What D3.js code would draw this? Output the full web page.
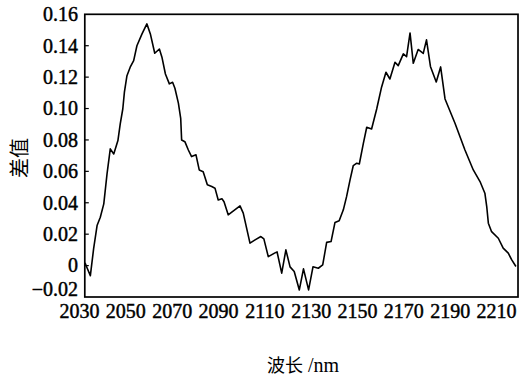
<!DOCTYPE html>
<html>
<head>
<meta charset="utf-8">
<script src="https://cdn.jsdelivr.net/npm/d3@7/dist/d3.min.js"></script>
<style>
  html, body { margin: 0; padding: 0; background: #fff; }
  svg { display: block; }
</style>
</head>
<body>
<svg id="chart" width="527" height="376"></svg>
<script>
// Wavelength (nm) and difference values of the spectrum curve
const wavelength = [
  2032.6, 2033.5, 2034.9, 2036.3, 2037.8, 2039.2, 2040.7, 2042.1, 2043.5, 2045.0,
  2046.8, 2047.8, 2048.9, 2049.6, 2050.7, 2052.1, 2053.6, 2055.0, 2057.2, 2059.3,
  2060.8, 2062.7, 2064.7, 2065.8, 2067.3, 2069.0, 2070.4, 2071.4, 2072.9, 2073.9,
  2074.3, 2075.7, 2077.2, 2078.6, 2080.5, 2081.9, 2083.6, 2085.4, 2087.3, 2088.7,
  2090.1, 2091.7, 2092.6, 2094.4, 2099.5, 2100.9, 2103.8, 2106.0, 2108.5, 2109.8,
  2111.7, 2114.6, 2115.5, 2117.5, 2119.3, 2121.1, 2122.9, 2125.1, 2126.9, 2129.1,
  2131.0, 2133.3, 2135.2, 2136.9, 2138.8, 2140.5, 2142.3, 2144.1, 2145.5, 2147.0,
  2148.4, 2149.9, 2151.0, 2152.7, 2154.2, 2156.3, 2158.5, 2160.6, 2162.5, 2164.2,
  2166.4, 2167.8, 2170.0, 2171.4, 2172.9, 2174.3, 2176.4, 2178.6, 2180.0, 2181.7,
  2184.2, 2186.1, 2188.0, 2192.3, 2196.6, 2200.2, 2203.1, 2205.2, 2206.0, 2206.7,
  2208.1, 2211.0, 2213.1, 2215.3, 2216.8, 2218.6
];
const difference = [
  0.0017, -0.0015, -0.0064, 0.0106, 0.0255, 0.0308, 0.0393, 0.0584, 0.0743, 0.0711,
  0.0796, 0.0902, 0.0997, 0.1104, 0.1209, 0.1263, 0.1305, 0.1400, 0.1475, 0.1539,
  0.1475, 0.1352, 0.1379, 0.1327, 0.1220, 0.1157, 0.1167, 0.1129, 0.1034, 0.0938,
  0.0800, 0.0789, 0.0736, 0.0694, 0.0705, 0.0609, 0.0598, 0.0514, 0.0503, 0.0493,
  0.0418, 0.0425, 0.0407, 0.0323, 0.0380, 0.0334, 0.0143, 0.0164, 0.0185, 0.0170,
  0.0057, 0.0081, 0.0087, -0.0048, 0.0100, -0.0008, -0.0038, -0.0155, -0.0021, -0.0155,
  -0.0008, -0.0017, 0.0004, 0.0148, 0.0153, 0.0275, 0.0286, 0.0355, 0.0439, 0.0546,
  0.0637, 0.0652, 0.0647, 0.0775, 0.0881, 0.0870, 0.0997, 0.1136, 0.1231, 0.1188,
  0.1295, 0.1273, 0.1348, 0.1330, 0.1481, 0.1288, 0.1376, 0.1351, 0.1437, 0.1268,
  0.1169, 0.1265, 0.1061, 0.0906, 0.0736, 0.0609, 0.0535, 0.0461, 0.0376, 0.0270,
  0.0216, 0.0174, 0.0111, 0.0079, 0.0036, -0.0006
];

// Axis ticks and labels
const xTicks = [2030, 2050, 2070, 2090, 2110, 2130, 2150, 2170, 2190, 2210];
const yTicks = [-0.02, 0, 0.02, 0.04, 0.06, 0.08, 0.10, 0.12, 0.14, 0.16];
const xLimits = [2032.5, 2219.5];
const yLimits = [-0.02, 0.16];
const xTitle = "波长";
const xUnit = " /nm";
const yTitle = "差值";

const svg = d3.select("#chart");
const serif = "'Liberation Serif', 'Times New Roman', serif";
const cjk = "'Noto Sans CJK SC', sans-serif";

const x = d3.scaleLinear().domain([2030, 2210]).range([79, 496]);
const y = d3.scaleLinear().domain(yLimits).range([297, 14.3]);

const frameL = x(xLimits[0]), frameR = x(xLimits[1]);
const frameT = y(yLimits[1]), frameB = y(yLimits[0]);

// Plot frame
svg.append("rect")
  .attr("x", frameL).attr("y", frameT)
  .attr("width", frameR - frameL).attr("height", frameB - frameT)
  .attr("fill", "none").attr("stroke", "#000").attr("stroke-width", 1.7);

// Inward ticks on the left edge
svg.append("g").selectAll("line").data(yTicks.slice(1, -1)).join("line")
  .attr("x1", frameL).attr("x2", frameL + 4)
  .attr("y1", d => y(d)).attr("y2", d => y(d))
  .attr("stroke", "#000").attr("stroke-width", 1.2);

// Shared look of the tick labels: printed serif with a slightly heavy stroke
function styleLabels(sel) {
  sel.attr("font-family", serif).attr("font-size", 20)
    .attr("fill", "#000").attr("stroke", "#000").attr("stroke-width", 0.45);
}

// Bottom axis labels
const fmtX = d3.format("d");
const xAxis = d3.axisBottom(x).tickValues(xTicks).tickSize(0).tickPadding(7).tickFormat(fmtX);
const gx = svg.append("g").attr("transform", `translate(0,${frameB})`).call(xAxis);
gx.select(".domain").remove();
gx.selectAll("text").call(styleLabels);

// Left axis labels
const fmtY = d => d === 0 ? "0" : (d < 0 ? "\u22120.02" : d3.format(".2f")(d));
const yAxis = d3.axisLeft(y).tickValues(yTicks).tickSize(0).tickPadding(0).tickFormat(fmtY);
const gy = svg.append("g").attr("transform", `translate(78,0)`).call(yAxis);
gy.select(".domain").remove();
gy.selectAll("text").call(styleLabels);
// lowest label sits just above the corner so it clears the first wavelength label
gy.selectAll("text").filter(d => d < 0).attr("dy", "-0.1em");

// Spectrum curve
const pts = wavelength.map((w, i) => [w, difference[i]]);
svg.append("path")
  .datum(pts)
  .attr("fill", "none")
  .attr("stroke", "#000")
  .attr("stroke-width", 1.6)
  .attr("stroke-linejoin", "round")
  .attr("d", d3.line().x(d => x(d[0])).y(d => y(d[1])));

// Axis titles
const xt = svg.append("text")
  .attr("x", 303).attr("y", 372)
  .attr("text-anchor", "middle")
  .attr("fill", "#000");
xt.append("tspan").attr("font-family", cjk).attr("font-size", 18).text(xTitle);
xt.append("tspan").attr("font-family", serif).attr("font-size", 20).text(xUnit);

svg.append("text")
  .attr("transform", "translate(27,158) rotate(-90)")
  .attr("text-anchor", "middle")
  .attr("font-family", cjk).attr("font-size", 20)
  .attr("fill", "#000")
  .text(yTitle);
</script>
</body>
</html>
